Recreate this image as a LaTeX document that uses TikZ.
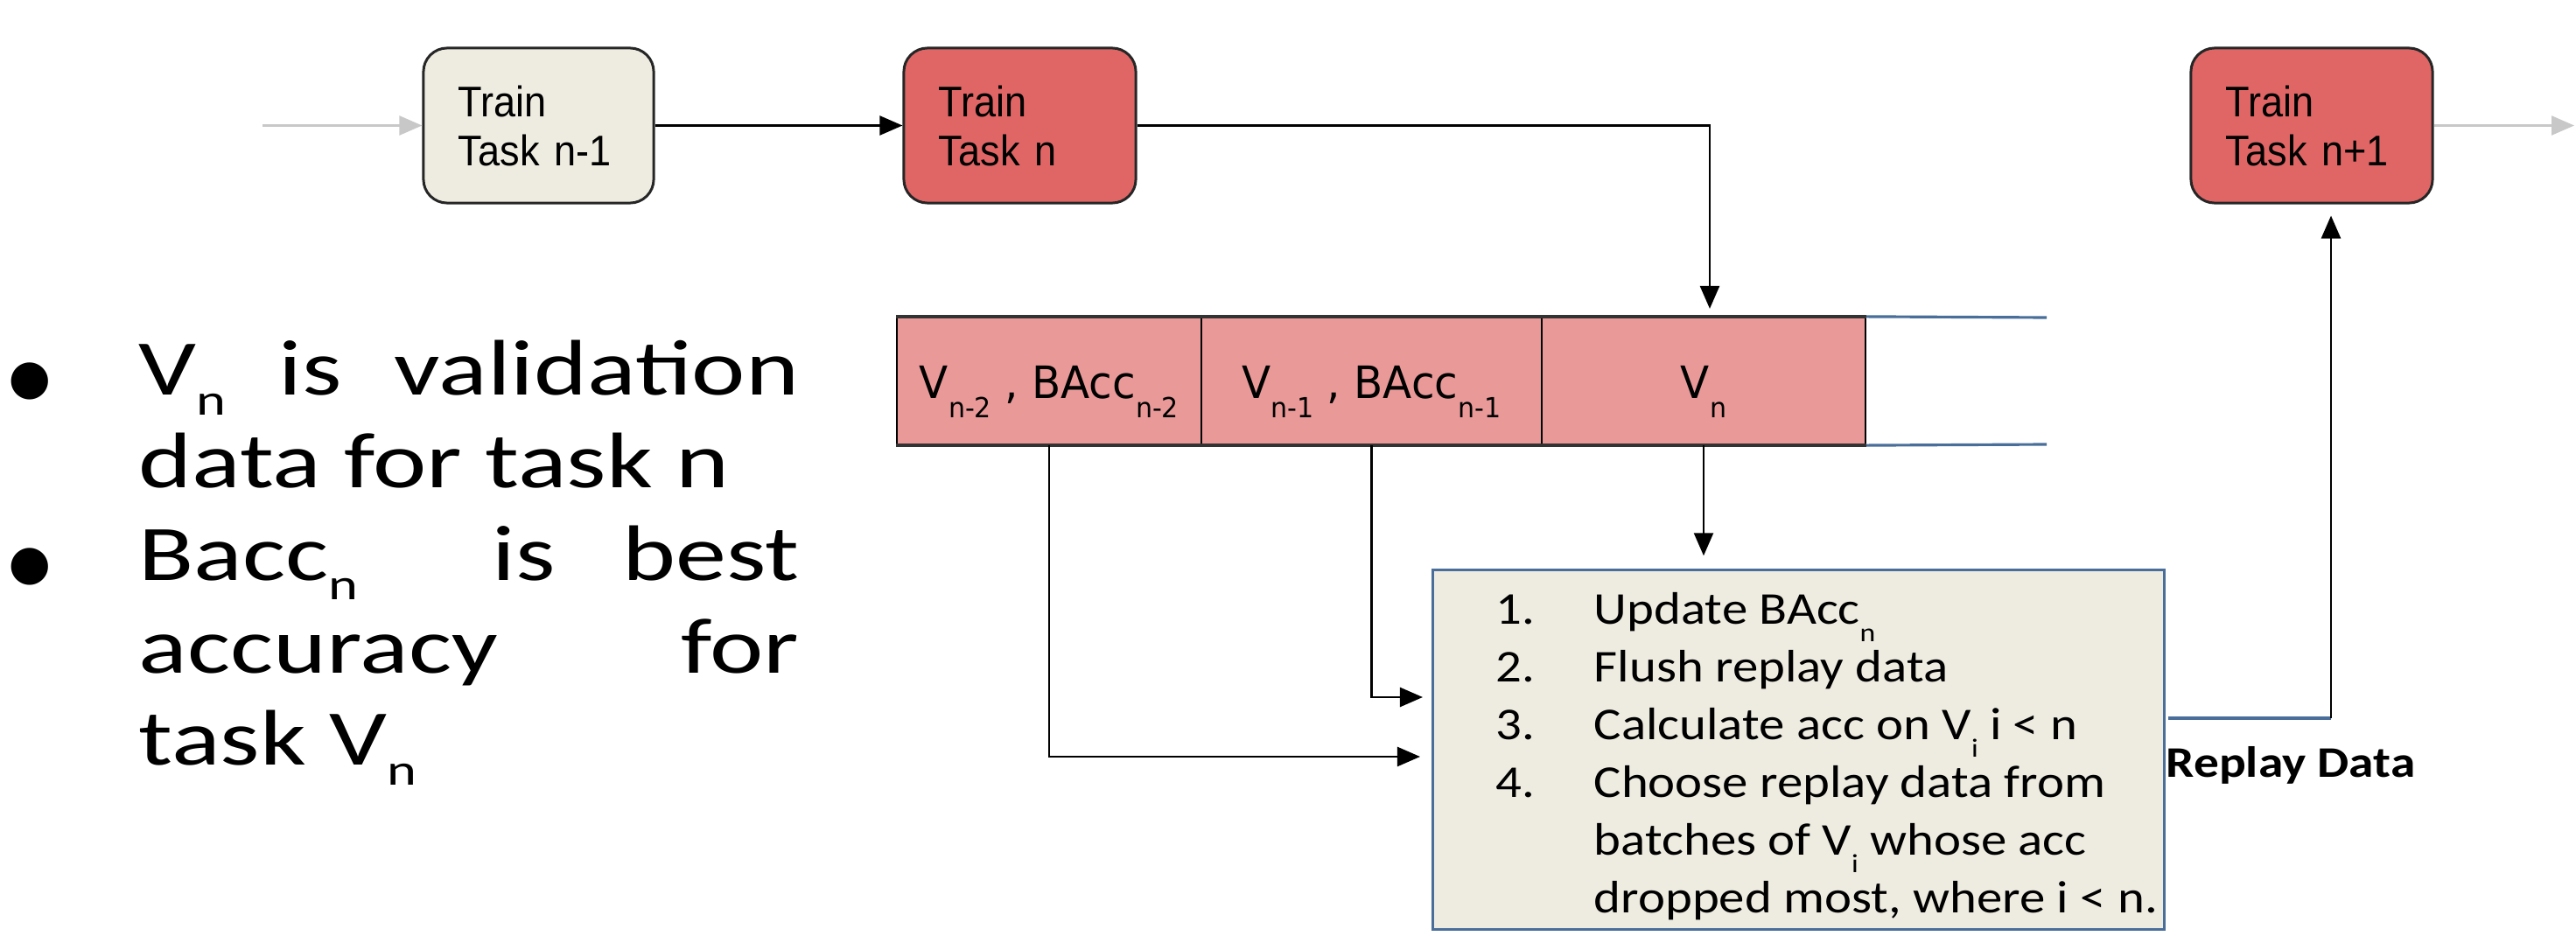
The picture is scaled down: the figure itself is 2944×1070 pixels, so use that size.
\documentclass[tikz,border=0pt]{standalone}
\usepackage{fontspec}
\usepackage{graphicx}
\usetikzlibrary{arrows.meta}
\newfontfamily\boxfont[FakeStretch=0.92]{Liberation Sans}
\newfontfamily\buffont[FakeStretch=0.95]{DejaVu Sans}
\newfontfamily\procfont[FakeStretch=1.13]{Carlito}
\newfontfamily\bulfont[FakeStretch=1.29]{Carlito}
\newfontfamily\dotfont{Carlito}
\newfontfamily\repfont[FakeStretch=1.15]{Carlito}
\definecolor{beige}{HTML}{EEECE1}
\definecolor{redbox}{HTML}{E06666}
\definecolor{bufred}{HTML}{EA9999}
\definecolor{bluegray}{HTML}{4A6E9A}
\definecolor{lightgray}{HTML}{C8C8C8}
\newcommand\cellsub[1]{\raisebox{-6.5pt}[0pt][0pt]{\fontsize{9pt}{9pt}\selectfont #1}}
\newcommand\procsub[1]{\raisebox{-5.7pt}[0pt][0pt]{\fontsize{8.5pt}{8.5pt}\selectfont #1}}
\newcommand\bulsub[1]{\raisebox{-6.3pt}[0pt][0pt]{\fontsize{14.2pt}{14.2pt}\selectfont #1}}
\newcommand\bulmark{\makebox[1.40cm][l]{\hspace*{0.16cm}\makebox[0pt]{\raisebox{-5.1pt}[0pt][0pt]{\dotfont\fontsize{34pt}{34pt}\selectfont\textbullet}}}}
\tikzset{
  arr/.style={-{Triangle[length=0.26cm,width=0.22cm]}, line width=0.7pt, draw=black},
  grayarr/.style={-{Triangle[length=0.26cm,width=0.22cm]}, line width=0.7pt, draw=lightgray, fill=lightgray},
  tbox/.style={draw=black!85, line width=0.85pt, rounded corners=0.27cm, minimum height=1.77cm,
    align=left, inner xsep=0.4cm, inner ysep=0pt,
    font=\boxfont\fontsize{13.94pt}{15.93pt}\selectfont},
  cell/.style={draw=black, line width=0.6pt, fill=bufred, minimum height=1.45cm, inner sep=0pt,
    text height=0.5cm, text depth=0.11cm,
    font=\buffont\fontsize{14.5pt}{17pt}\selectfont},
  blueline/.style={draw=bluegray, line width=0.9pt},
}
\begin{document}
\begin{tikzpicture}[x=0.01cm, y=-0.01cm]
\useasboundingbox (0,0) rectangle (2944,1070);

% top task boxes
\node[tbox, fill=beige, text width=1.83cm] (tn1) at (615.5,143.5) {Train\\Task n-1};
\node[tbox, fill=redbox, text width=1.85cm] (tn) at (1165.5,143.5) {Train\\Task n};
\node[tbox, fill=redbox, text width=1.96cm] (tnp1) at (2642,143.5) {Train\\Task n+1};

\coordinate (gin) at (300,143.5);
\coordinate (gout) at (2942,143.5);
\draw[grayarr] (gin) -- (tn1.west);
\draw[grayarr] (tnp1.east) -- (gout);
\draw[arr] (tn1.east) -- (tn.west);

% buffer
\node[cell, minimum width=3.48cm] (c1) at (1199,435.5) {V\cellsub{n-2} , BAcc\cellsub{n-2}};
\node[cell, minimum width=3.89cm] (c2) at (1567.5,435.5) {V\cellsub{n-1} , BAcc\cellsub{n-1}};
\node[cell, minimum width=3.70cm] (c3) at (1947,435.5) {V\cellsub{n}};
\draw[line width=1.1pt, draw=black!80] (c1.north west) -- (c3.north east);
\draw[line width=1.1pt, draw=black!80] (c1.south west) -- (c3.south east);
\coordinate (bt) at (2339,363);
\coordinate (bb) at (2339,508);
\draw[blueline] (c3.north east) -- (bt);
\draw[blueline] (c3.south east) -- (bb);

\draw[arr, shorten >=0.09cm] (tn.east) -| ([xshift=0.07cm]c3.north);

% process box
\node[draw=bluegray, line width=0.9pt, fill=beige, minimum width=8.35cm, minimum height=4.10cm, inner sep=0pt] (proc) at (2055.5,857) {};
\node[anchor=base west, inner sep=0pt, font=\procfont\fontsize{14.8pt}{18.78pt}\selectfont] (proctext) at (1709,713) {%
\begin{tabular}[t]{@{}l@{}l@{}}
\makebox[1.12cm][l]{1.} & Update BAcc\procsub{n}\\
\makebox[1.12cm][l]{2.} & Flush replay data\\
\makebox[1.12cm][l]{3.} & Calculate acc on V\procsub{i} i < n\\
\makebox[1.12cm][l]{4.} & Choose replay data from\\
 & batches of V\procsub{i} whose acc\\
 & dropped most, where i < n.
\end{tabular}};

\draw[arr, shorten >=0.15cm] (c3.south) -- (c3.south |- proc.north);
\coordinate (in1) at (1638,797);
\coordinate (in2) at (1638,865);
\draw[arr, shorten >=0.12cm] (c2.south) |- (in1);
\draw[arr, shorten >=0.15cm] (c1.south) |- (in2);

% replay connector
\coordinate (rout) at (2478,821);
\coordinate (rc) at (2664,821);
\draw[blueline] (rout) -- (rc);
\draw[arr, shorten >=0.13cm] (rc) -- (rc |- tnp1.south);
\node[anchor=base west, inner sep=0pt, font=\repfont\bfseries\fontsize{14.2pt}{16pt}\selectfont] (replay) at (2475,888) {Replay Data};

% bullet text
\node[anchor=base west, inner sep=0pt, font=\bulfont\fontsize{25.6pt}{30.07pt}\selectfont] (bullets) at (18,452) {%
\begin{tabular}[t]{@{}l@{}l@{}}
\bulmark & \makebox[7.54cm][s]{V\bulsub{n} is validation}\\
 & data for task n\\
\bulmark & \makebox[7.54cm][s]{Bacc\bulsub{n}\ \ is best}\\
 & \makebox[7.54cm][s]{accuracy for}\\
 & task V\bulsub{n}
\end{tabular}};
\end{tikzpicture}
\end{document}
